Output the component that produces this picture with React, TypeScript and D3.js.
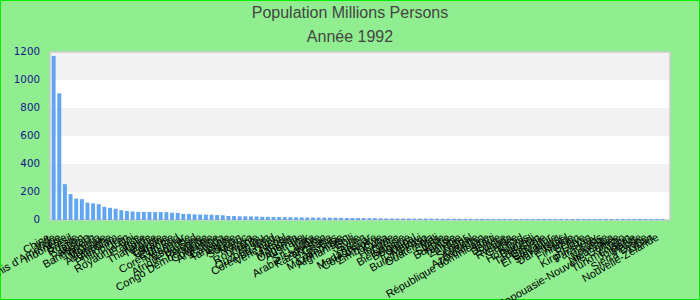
import React from "react";
import * as d3 from "d3";

const title = "Population Millions Persons";
const subtitle = "Année 1992";

const countries = [
  "Chine", "Inde", "États-Unis d'Amérique", "Indonésie", "Brésil", "Russie", "Japon", "Pakistan", "Bangladesh", "Nigéria",
  "Mexique", "Allemagne", "Viet Nam", "Philippines", "Iran", "Royaume-Uni", "France", "Italie", "Thaïlande", "Turquie",
  "Égypte", "Ukraine", "Éthiopie", "Corée du Sud", "Myanmar", "Espagne", "Afrique du Sud", "Pologne", "Congo Démocratique", "Colombie",
  "Argentine", "Canada", "Tanzanie", "Algérie", "Soudan", "Maroc", "Kenya", "Roumanie", "Pérou", "Ouzbékistan",
  "Corée du Nord", "Venezuela", "Népal", "Malaisie", "Ouganda", "Australie", "Irak", "Sri Lanka", "Arabie saoudite", "Kazakhstan",
  "Ghana", "Pays-Bas", "Mozambique", "Afghanistan", "Chili", "Syrie", "Yémen", "Madagascar", "Côte d'Ivoire", "Zimbabwe",
  "Cuba", "Hongrie", "Grèce", "Biélorussie", "Belgique", "Portugal", "Malawi", "Burkina Faso", "Guatemala", "Mali",
  "Suède", "Bulgarie", "Tunisie", "Zambie", "Niger", "Sénégal", "Autriche", "Azerbaïdjan", "République dominicaine", "Haïti",
  "Bolivie", "Suisse", "Rwanda", "Guinée", "Tchad", "Honduras", "Burundi", "Tadjikistan", "Géorgie", "El Salvador",
  "Slovaquie", "Danemark", "Israël", "Finlande", "Bénin", "Libye", "Kirghizistan", "Paraguay", "Laos", "Norvège",
  "Nicaragua", "Papouasie-Nouvelle-Guinée", "Togo", "Turkménistan", "Jordanie", "Irlande", "Sierra Leone", "Liban", "Nouvelle-Zélande",
];

const population = [
  1172, 905, 256, 185, 153, 149, 124.5, 119, 113, 94,
  87, 80.6, 70, 64.5, 61, 57.8, 57.4, 56.8, 56.6, 56.5,
  56.0, 52.1, 51.0, 43.7, 42.9, 40.2, 39.6, 38.4, 37.8, 35.3,
  33.4, 28.4, 28.0, 26.6, 26.3, 25.8, 25.3, 22.8, 22.4, 21.5,
  21.1, 20.3, 19.6, 19.0, 18.5, 17.5, 17.4, 17.3, 16.9, 16.5,
  15.9, 15.2, 14.2, 14.0, 13.6, 13.2, 13.0, 12.6, 12.4, 10.6,
  10.6, 10.3, 10.3, 10.2, 10.0, 9.9, 9.6, 9.4, 9.2, 8.7,
  8.6, 8.5, 8.5, 8.3, 8.1, 7.8, 7.8, 7.4, 7.4, 7.2,
  6.9, 6.9, 6.6, 6.4, 6.2, 5.6, 5.6, 5.5, 5.4, 5.3,
  5.3, 5.2, 5.1, 5.0, 5.0, 4.6, 4.5, 4.5, 4.4, 4.3,
  4.1, 4.1, 4.0, 3.9, 3.8, 3.6, 3.6, 3.5, 3.5,
];

const yTicks = [0, 200, 400, 600, 800, 1000, 1200];

const W = 700;
const H = 300;
const plot = { left: 50, right: 670, top: 52, bottom: 220 };

export default function App() {
  const x = d3
    .scaleBand<string>()
    .domain(countries)
    .range([49.7, 666.4])
    .paddingInner(0.3)
    .paddingOuter(0.35);
  const y = d3.scaleLinear().domain([0, 1200]).range([plot.bottom, plot.top]);

  const bands = yTicks.slice(0, -1).map((t, i) => ({ from: t, to: yTicks[i + 1], gray: i % 2 === 1 }));

  return (
    <svg
      width={W}
      height={H}
      style={{ position: "absolute", left: 0, top: 0, display: "block" }}
      xmlns="http://www.w3.org/2000/svg"
    >
      <rect x={0.5} y={0.5} width={W - 1} height={H - 1} fill="#90ee90" stroke="#00ee00" strokeWidth={1} />
      <text x={W / 2} y={18} textAnchor="middle" fontFamily="'Liberation Sans', Arial, sans-serif" fontSize={16} fill="#444">
        {title}
      </text>
      <text x={W / 2} y={42} textAnchor="middle" fontFamily="'Liberation Sans', Arial, sans-serif" fontSize={16} fill="#444">
        {subtitle}
      </text>

      {bands.map((b, i) => (
        <rect
          key={"band" + i}
          x={plot.left}
          y={y(b.to)}
          width={plot.right - plot.left}
          height={y(b.from) - y(b.to)}
          fill={b.gray ? "#f2f2f2" : "#ffffff"}
          shapeRendering="crispEdges"
        />
      ))}
      <rect
        x={plot.left}
        y={plot.top}
        width={plot.right - plot.left}
        height={plot.bottom - plot.top}
        fill="none"
        stroke="#cccccc"
        strokeWidth={1.5}
      />

      {yTicks.map((t) => (
        <text
          key={"yt" + t}
          x={40}
          y={y(t)}
          dy="0.32em"
          textAnchor="end"
          fontFamily="'DejaVu Sans', sans-serif"
          fontSize={10.3}
          fill="#15158a"
        >
          {t}
        </text>
      ))}

      {countries.map((c, i) => {
        const v = population[i];
        const h = Math.max(1, y(0) - y(v));
        return (
          <rect
            key={"bar" + i}
            x={x(c)}
            y={y(0) - h}
            width={x.bandwidth()}
            height={h}
            fill="#62a6f2"
          />
        );
      })}

      {countries.map((c, i) => {
        const cx = (x(c) as number) + x.bandwidth() / 2 - 3;
        const cy = 239.5;
        return (
          <text
            key={"xl" + i}
            x={cx}
            y={cy}
            transform={`rotate(-30 ${cx} ${cy})`}
            textAnchor="end"
            fontFamily="'Liberation Sans', Arial, sans-serif"
            fontSize={11}
            fill="#000"
          >
            {c}
          </text>
        );
      })}
    </svg>
  );
}
